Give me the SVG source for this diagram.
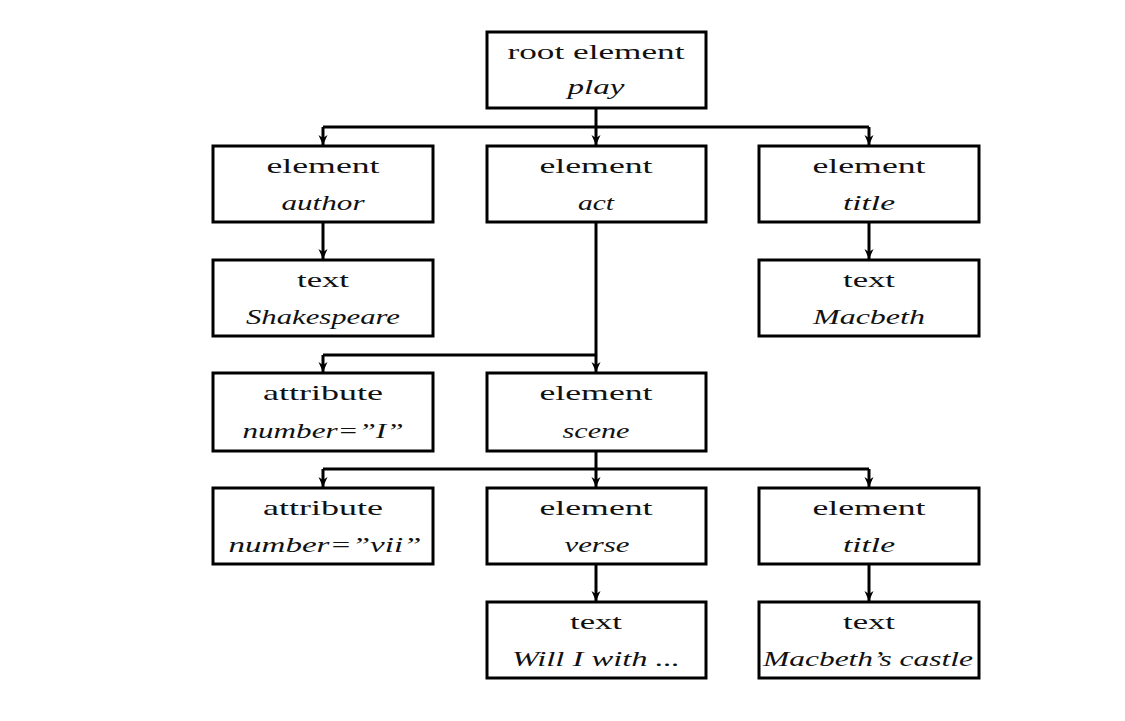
<svg xmlns="http://www.w3.org/2000/svg" width="1125" height="721" viewBox="0 0 1125 721">
<style>
rect.box{fill:#fff;stroke:#000;stroke-width:3}
text{font-family:"Liberation Serif","Times New Roman",serif;font-size:21px;fill:#111;text-anchor:middle}
text.i{font-style:italic}
.c path{fill:none;stroke:#000;stroke-width:3;marker-end:url(#ah)}
.c path.n{marker-end:none}
</style>
<defs>
<marker id="ah" markerUnits="userSpaceOnUse" markerWidth="12" markerHeight="12" viewBox="0 0 12 12" refX="11" refY="6" orient="auto">
<path d="M1,1.5 L11,6 L1,10.5 L4,6 Z" fill="#000"/>
</marker>
</defs>
<rect width="1125" height="721" fill="#fff"/>
<g class="c" id="connectors">
<path class="n" d="M596,108 V127 M323,127 H869"/>
<path d="M323,127 V145"/>
<path d="M596,127 V145"/>
<path d="M869,127 V145"/>
<path d="M323,222 V259"/>
<path d="M869,222 V259"/>
<path d="M596,222 V372"/>
<path class="n" d="M596,355 H323"/>
<path d="M323,355 V372"/>
<path class="n" d="M596,451 V469 M323,469 H869"/>
<path d="M323,469 V487"/>
<path d="M596,469 V487"/>
<path d="M869,469 V487"/>
<path d="M596,564 V601"/>
<path d="M869,564 V601"/>
</g>
<g id="root"><rect class="box" x="487" y="32" width="219" height="76"/><text x="596" y="59" textLength="177" lengthAdjust="spacingAndGlyphs">root element</text><text class="i" x="596" y="94" textLength="57" lengthAdjust="spacingAndGlyphs">play</text></g>
<g id="author"><rect class="box" x="213" y="146" width="220" height="76"/><text x="323" y="173" textLength="113" lengthAdjust="spacingAndGlyphs">element</text><text class="i" x="323" y="210" textLength="83" lengthAdjust="spacingAndGlyphs">author</text></g>
<g id="act"><rect class="box" x="487" y="146" width="219" height="76"/><text x="596" y="173" textLength="113" lengthAdjust="spacingAndGlyphs">element</text><text class="i" x="596" y="210" textLength="36" lengthAdjust="spacingAndGlyphs">act</text></g>
<g id="title1"><rect class="box" x="759" y="146" width="220" height="76"/><text x="869" y="173" textLength="113" lengthAdjust="spacingAndGlyphs">element</text><text class="i" x="869" y="210" textLength="52" lengthAdjust="spacingAndGlyphs">title</text></g>
<g id="shakespeare"><rect class="box" x="213" y="260" width="220" height="76"/><text x="323" y="287" textLength="52" lengthAdjust="spacingAndGlyphs">text</text><text class="i" x="323" y="324" textLength="154" lengthAdjust="spacingAndGlyphs">Shakespeare</text></g>
<g id="macbeth"><rect class="box" x="759" y="260" width="220" height="76"/><text x="869" y="287" textLength="52" lengthAdjust="spacingAndGlyphs">text</text><text class="i" x="869" y="324" textLength="112" lengthAdjust="spacingAndGlyphs">Macbeth</text></g>
<g id="attrI"><rect class="box" x="213" y="373" width="220" height="78"/><text x="323" y="400" textLength="120" lengthAdjust="spacingAndGlyphs">attribute</text><text class="i" x="323" y="438" textLength="161" lengthAdjust="spacingAndGlyphs">number=”I”</text></g>
<g id="scene"><rect class="box" x="487" y="373" width="219" height="78"/><text x="596" y="400" textLength="113" lengthAdjust="spacingAndGlyphs">element</text><text class="i" x="596" y="438" textLength="67" lengthAdjust="spacingAndGlyphs">scene</text></g>
<g id="attrvii"><rect class="box" x="213" y="488" width="220" height="76"/><text x="323" y="515" textLength="120" lengthAdjust="spacingAndGlyphs">attribute</text><text class="i" x="325" y="552" textLength="193" lengthAdjust="spacingAndGlyphs">number=”vii”</text></g>
<g id="verse"><rect class="box" x="487" y="488" width="219" height="76"/><text x="596" y="515" textLength="113" lengthAdjust="spacingAndGlyphs">element</text><text class="i" x="597" y="552" textLength="65" lengthAdjust="spacingAndGlyphs">verse</text></g>
<g id="title2"><rect class="box" x="759" y="488" width="220" height="76"/><text x="869" y="515" textLength="113" lengthAdjust="spacingAndGlyphs">element</text><text class="i" x="869" y="552" textLength="52" lengthAdjust="spacingAndGlyphs">title</text></g>
<g id="willi"><rect class="box" x="487" y="602" width="219" height="76"/><text x="596" y="629" textLength="52" lengthAdjust="spacingAndGlyphs">text</text><text class="i" x="596" y="666" textLength="168" lengthAdjust="spacingAndGlyphs">Will I with ...</text></g>
<g id="castle"><rect class="box" x="759" y="602" width="220" height="76"/><text x="869" y="629" textLength="52" lengthAdjust="spacingAndGlyphs">text</text><text class="i" x="868" y="666" textLength="210" lengthAdjust="spacingAndGlyphs">Macbeth’s castle</text></g>
</svg>
